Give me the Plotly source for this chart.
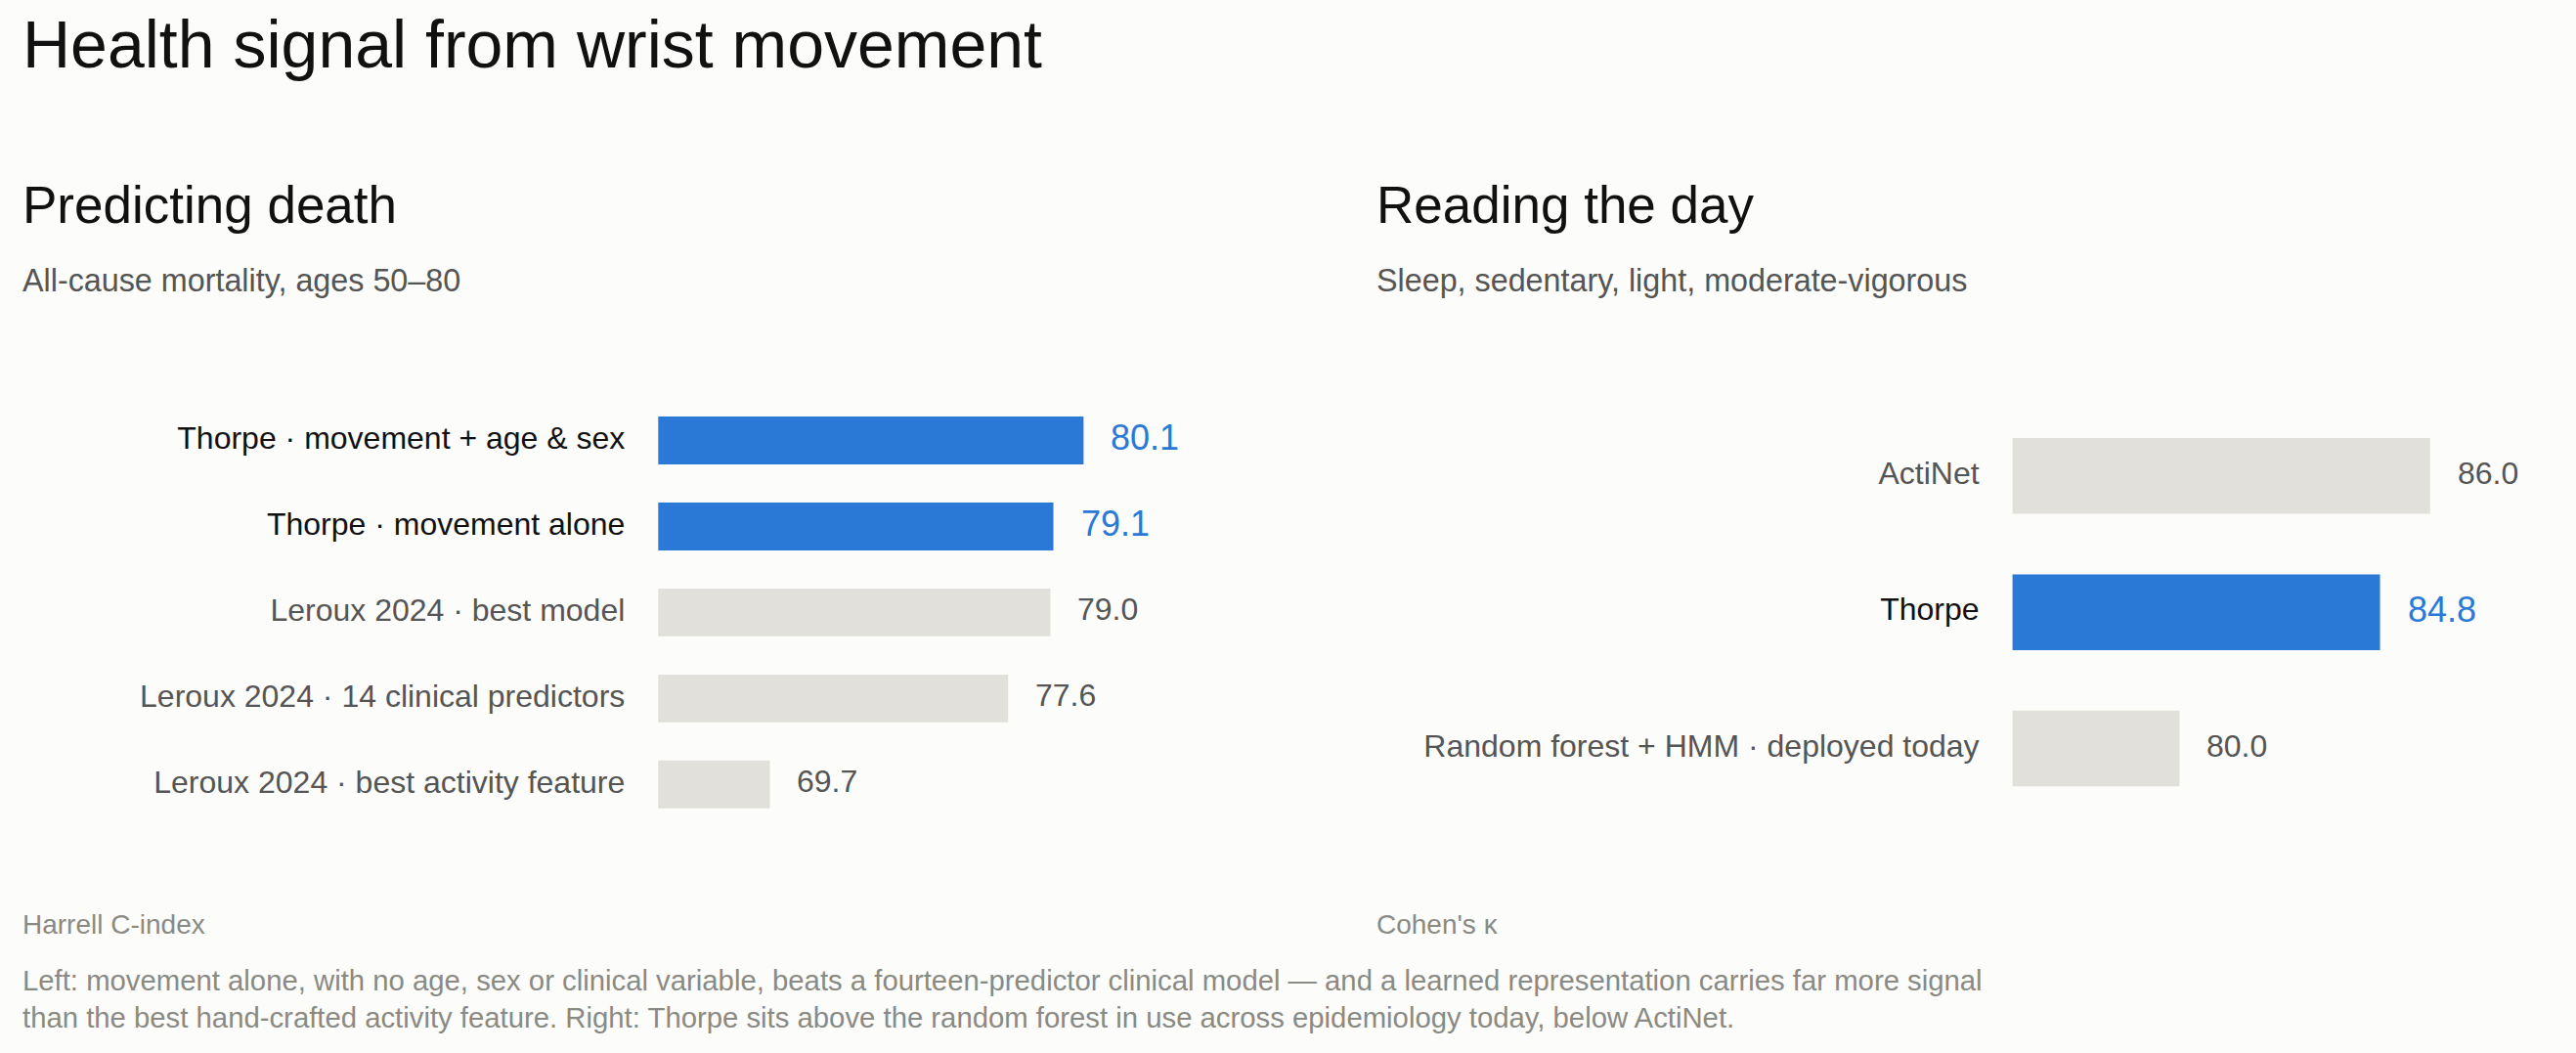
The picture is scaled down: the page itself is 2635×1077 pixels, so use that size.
import plotly.graph_objects as go

# ---------------- data ----------------
mort_labels = [
    "Thorpe · movement + age & sex",
    "Thorpe · movement alone",
    "Leroux 2024 · best model",
    "Leroux 2024 · 14 clinical predictors",
    "Leroux 2024 · best activity feature",
]
mort_values = [80.1, 79.1, 79.0, 77.6, 69.7]
mort_highlight = [True, True, False, False, False]

day_labels = ["ActiNet", "Thorpe", "Random forest + HMM · deployed today"]
day_values = [86.0, 84.8, 80.0]
day_highlight = [False, True, False]

title_text = "Health signal from wrist movement"
left_title = "Predicting death"
left_sub = "All-cause mortality, ages 50–80"
left_metric = "Harrell C-index"
right_title = "Reading the day"
right_sub = "Sleep, sedentary, light, moderate-vigorous"
right_metric = "Cohen's κ"
note_lines = [
    "Left: movement alone, with no age, sex or clinical variable, beats a fourteen-predictor clinical model — and a learned representation carries far more signal",
    "than the best hand-crafted activity feature. Right: Thorpe sits above the random forest in use across epidemiology today, below ActiNet.",
]

# ---------------- style ----------------
W, H = 2635, 1077
FONT = "Liberation Sans, Arial, Helvetica, sans-serif"
BG = "#fcfcfa"
BLUE = "#2a79d6"
GREY_BAR = "#e1e0da"
DARK = "#111111"
MID = "#555555"
LIGHT = "#8a8a84"


def px_x(p):
    return p / W


def px_y(p):
    return 1 - p / H


fig = go.Figure()


def add_panel(labels, values, hl, xa, ya):
    fig.add_trace(go.Bar(
        x=values, y=labels, orientation="h",
        marker=dict(color=[BLUE if h else GREY_BAR for h in hl], line=dict(width=0)),
        xaxis=xa, yaxis=ya, hoverinfo="skip", showlegend=False,
    ))
    for lab, v, h in zip(labels, values, hl):
        fig.add_annotation(
            x=v, y=lab, xref=xa, yref=ya, text=f"{v:.1f}",
            xanchor="left", yanchor="middle", xshift=26, yshift=3, showarrow=False,
            font=dict(family=FONT, size=36 if h else 32, color=BLUE if h else MID),
        )


add_panel(mort_labels, mort_values, mort_highlight, "x", "y")
add_panel(day_labels, day_values, day_highlight, "x2", "y2")


def ticktexts(labels, hl):
    return [f"<span style='color:{DARK if h else MID}'>{l}</span>" for l, h in zip(labels, hl)]


axis_common = dict(showgrid=False, zeroline=False, showline=False, fixedrange=True)

fig.update_layout(
    width=W, height=H,
    margin=dict(l=0, r=0, t=0, b=0),
    paper_bgcolor=BG, plot_bgcolor=BG,
    bargap=0.444,
    font=dict(family=FONT, size=32, color=MID),
    xaxis=dict(domain=[px_x(673.3), px_x(673.3 + 16 * 30.856)], range=[66, 82],
               showticklabels=False, anchor="y", **axis_common),
    yaxis=dict(domain=[px_y(846.3), px_y(406.5)], range=[4.5, -0.5], type="category",
               categoryorder="array", categoryarray=mort_labels,
               tickmode="array", tickvals=mort_labels, ticktext=ticktexts(mort_labels, mort_highlight),
               ticks="", ticklabelstandoff=33, ticklabelshift=3,
               tickfont=dict(family=FONT, size=32, color=MID),
               anchor="x", **axis_common),
    xaxis2=dict(domain=[px_x(2058.6), px_x(2058.6 + 12 * 42.72)], range=[76, 88],
                showticklabels=False, anchor="y2", **axis_common),
    yaxis2=dict(domain=[px_y(835.3), px_y(417.1)], range=[2.5, -0.5], type="category",
                categoryorder="array", categoryarray=day_labels,
                tickmode="array", tickvals=day_labels, ticktext=ticktexts(day_labels, day_highlight),
                ticks="", ticklabelstandoff=33, ticklabelshift=3,
                tickfont=dict(family=FONT, size=32, color=MID),
                anchor="x2", **axis_common),
)


def text_ann(text, xpx, ytop, size, color):
    fig.add_annotation(
        x=px_x(xpx), y=px_y(ytop), xref="paper", yref="paper", text=text,
        xanchor="left", yanchor="top", showarrow=False, align="left",
        font=dict(family=FONT, size=size, color=color),
    )


LX, RX = 20.5, 1405.5
text_ann(title_text, LX, 5.0, 68, DARK)
text_ann(left_title, LX, 178.0, 53, DARK)
text_ann(right_title, RX, 178.0, 53, DARK)
text_ann(left_sub, LX, 267, 32.3, MID)
text_ann(right_sub, RX, 267, 32.3, MID)
text_ann(left_metric, LX, 927.7, 28, LIGHT)
text_ann(right_metric, RX, 927.7, 28, LIGHT)
text_ann("<br>".join(note_lines), LX, 983.5, 29.3, LIGHT)

fig.write_html(
    "out.html",
    config={"displayModeBar": False},
    post_script="document.body.style.margin='0';document.body.style.background='#fcfcfa';",
)
